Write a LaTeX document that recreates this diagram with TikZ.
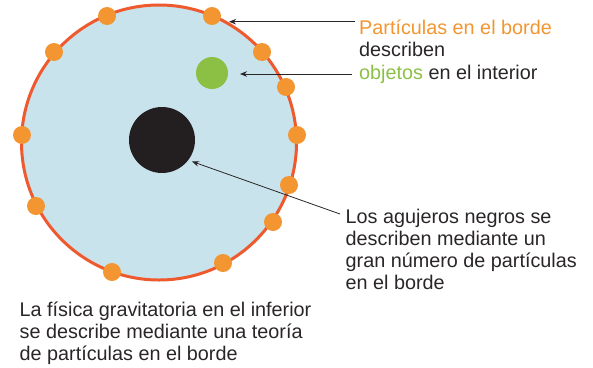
\documentclass[tikz,border=0pt]{standalone}
\usepackage{fontspec}
\setmainfont{Liberation Sans}
\usetikzlibrary{arrows.meta}
\definecolor{skyfill}{HTML}{C9E3EC}
\definecolor{rim}{HTML}{EE5A2E}
\definecolor{dotorange}{HTML}{F39530}
\definecolor{objgreen}{HTML}{8CC045}
\definecolor{hole}{HTML}{231F20}
\definecolor{ink}{HTML}{2A2627}
\begin{document}
\begin{tikzpicture}[x=1pt,y=-1pt,
  particle/.style={circle, fill=dotorange, minimum size=18pt, inner sep=0},
  caption/.style={anchor=base west, inner sep=0, align=left, font=\fontsize{19.8}{21.7}\selectfont, text=ink},
  pointer/.style={draw=ink, line width=0.8pt, -{Stealth[length=7pt,width=5.5pt]}}
]
\useasboundingbox (0,0) rectangle (593,367);
\node[circle, draw=rim, line width=3pt, fill=skyfill, minimum size=275pt, inner sep=0] (world) at (159,142.5) {};
\node[particle] (p1) at (107,16) {};
\node[particle] (p2) at (212,16) {};
\node[particle] (p3) at (54,52) {};
\node[particle] (p4) at (262,52) {};
\node[particle] (p5) at (286,87) {};
\node[particle] (p6) at (22,135) {};
\node[particle] (p7) at (297,135) {};
\node[particle] (p8) at (289,185) {};
\node[particle] (p9) at (36,206) {};
\node[particle] (p10) at (273,222) {};
\node[particle] (p11) at (223,263) {};
\node[particle] (p12) at (112,272) {};
\node[circle, fill=objgreen, minimum size=32pt, inner sep=0] (obj) at (212,73) {};
\node[circle, fill=hole, minimum size=66pt, inner sep=0] (bh) at (162,140) {};

% base anchor of a multi-line node = baseline of its last line
\node[caption, font=\fontsize{19.8}{22.4}\selectfont] (toptext) at (359,79) {\textcolor{dotorange}{Partículas en el borde}\\describen\\\textcolor{objgreen}{objetos} en el interior};
\node[caption] (bhtext) at (345.5,289) {Los agujeros negros se\\describen mediante un\\gran número de partículas\\en el borde};
\node[caption] (bottomtext) at (19.5,360) {La física gravitatoria en el inferior\\se describe mediante una teoría\\de partículas en el borde};

\coordinate (tailA) at (355,21.7);
\coordinate (tipA) at (229,21.7);
\coordinate (tailB) at (352,74);
\coordinate (tipB) at (240,74);
\coordinate (tailC) at (340,214);
\coordinate (tipC) at (192,161.5);
\draw[pointer] (tailA) -- (tipA);
\draw[pointer] (tailB) -- (tipB);
\draw[pointer] (tailC) -- (tipC);
\end{tikzpicture}
\end{document}
